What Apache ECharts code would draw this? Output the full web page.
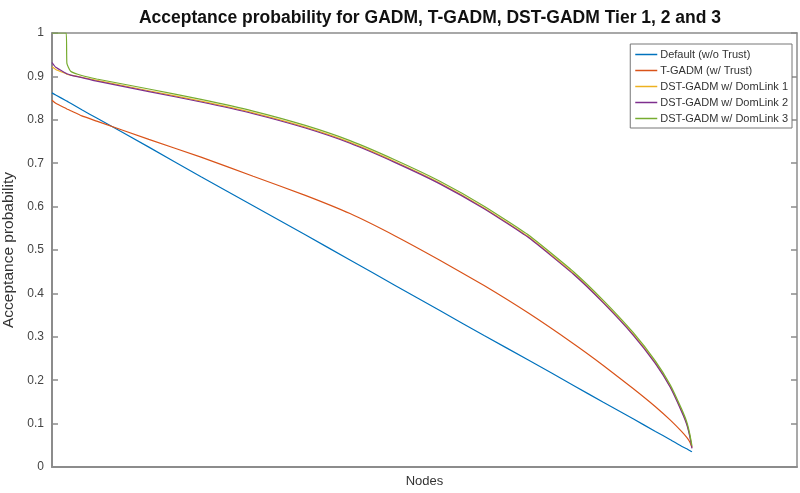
<!DOCTYPE html>
<html>
<head>
<meta charset="utf-8">
<script src="https://cdn.jsdelivr.net/npm/echarts@6/dist/echarts.min.js"></script>
<style>
  html, body { margin: 0; padding: 0; background: #fff; }
  #chart { width: 800px; height: 493px; }
</style>
</head>
<body>
<div id="chart"></div>
<script>
// node positions (x) shared by every curve
const nodes = [0, 5, 19, 20, 25, 40, 60, 130, 200, 270, 340, 400, 460, 520, 580, 640, 700, 740, 780, 810, 830, 845, 852, 856, 859];

const seriesNames = ['Default (w/o Trust)', 'T-GADM (w/ Trust)', 'DST-GADM w/ DomLink 1', 'DST-GADM w/ DomLink 2', 'DST-GADM w/ DomLink 3'];

const defaultVals = [0.862, 0.857, 0.844, 0.843, 0.838, 0.823, 0.804, 0.737, 0.669, 0.602, 0.535, 0.477, 0.419, 0.361, 0.303, 0.246, 0.188, 0.149, 0.111, 0.082, 0.063, 0.048, 0.042, 0.038, 0.035];
const tgadmVals = [0.845, 0.838, 0.826, 0.825, 0.821, 0.809, 0.797, 0.755, 0.714, 0.670, 0.626, 0.584, 0.533, 0.477, 0.418, 0.354, 0.284, 0.234, 0.181, 0.139, 0.108, 0.082, 0.068, 0.058, 0.045];
const dst1Vals = [0.922, 0.916, 0.906, 0.905, 0.903, 0.898, 0.891, 0.867, 0.843, 0.816, 0.783, 0.748, 0.704, 0.655, 0.597, 0.530, 0.446, 0.380, 0.306, 0.240, 0.185, 0.130, 0.100, 0.073, 0.045];
const dst2Vals = [0.932, 0.921, 0.907, 0.906, 0.903, 0.897, 0.889, 0.865, 0.841, 0.814, 0.781, 0.746, 0.702, 0.653, 0.595, 0.528, 0.444, 0.378, 0.304, 0.238, 0.183, 0.128, 0.098, 0.071, 0.043];
const dst3Vals = [1.0, 1.0, 1.0, 0.930, 0.912, 0.902, 0.894, 0.871, 0.847, 0.820, 0.787, 0.752, 0.708, 0.659, 0.601, 0.534, 0.450, 0.384, 0.310, 0.244, 0.189, 0.134, 0.104, 0.077, 0.049];

const colors = ['#0072BD', '#D95319', '#EDB120', '#7E2F8E', '#77AC30'];

const yTicks = [0, 0.1, 0.2, 0.3, 0.4, 0.5, 0.6, 0.7, 0.8, 0.9, 1];

function pairs(vals) {
  return nodes.map((x, i) => [x, vals[i]]);
}

const allVals = [defaultVals, tgadmVals, dst1Vals, dst2Vals, dst3Vals];

let chart = echarts.init(document.getElementById('chart'));
chart.setOption({
  animation: false,
  color: colors,
  title: {
    text: 'Acceptance probability for GADM, T-GADM, DST-GADM Tier 1, 2 and 3',
    left: 425,
    textAlign: 'center',
    top: 4,
    textStyle: { fontFamily: 'Liberation Sans', fontWeight: 'bold', fontSize: 17.5, color: '#111' }
  },
  legend: {
    orient: 'vertical',
    right: 8,
    top: 44,
    data: seriesNames,
    icon: 'rect',
    itemWidth: 22,
    itemHeight: 1.5,
    itemGap: 5,
    padding: [5, 4, 4, 5],
    borderColor: '#777',
    borderWidth: 1,
    backgroundColor: '#fff',
    textStyle: { fontFamily: 'Liberation Sans', fontSize: 11, color: '#333', padding: [0, 0, 0, -2] }
  },
  grid: { left: 52, right: 3, top: 33, bottom: 26, outerBoundsMode: 'none' },
  xAxis: [
    {
      type: 'value', min: 0, max: 1000,
      name: 'Nodes', nameLocation: 'middle', nameGap: 8,
      nameTextStyle: { fontFamily: 'Liberation Sans', fontSize: 13, color: '#333' },
      axisLine: { show: true, onZero: false, lineStyle: { color: '#8c8c8c', width: 2 } },
      axisTick: { show: false }, axisLabel: { show: false }, splitLine: { show: false }
    },
    {
      type: 'value', min: 0, max: 1000, position: 'top',
      axisLine: { show: true, onZero: false, lineStyle: { color: '#8c8c8c', width: 1.5 } },
      axisTick: { show: false }, axisLabel: { show: false }, splitLine: { show: false }
    }
  ],
  yAxis: [
    {
      type: 'value', min: 0, max: 1, interval: 0.1,
      name: 'Acceptance probability', nameLocation: 'middle', nameGap: 30,
      nameTextStyle: { fontFamily: 'Liberation Sans', fontSize: 15.5, color: '#333' },
      axisLine: { show: true, onZero: false, lineStyle: { color: '#8c8c8c', width: 2 } },
      axisTick: { show: true, inside: true, length: 6, lineStyle: { color: '#8c8c8c', width: 1.5 } },
      axisLabel: {
        fontFamily: 'Liberation Sans', fontSize: 12, color: '#444', margin: 8,
        formatter: (v) => { const t = yTicks.find((k) => Math.abs(k - v) < 1e-6); return t === undefined ? '' : String(t); }
      },
      splitLine: { show: false }
    },
    {
      type: 'value', min: 0, max: 1, interval: 0.1, position: 'right',
      axisLine: { show: true, onZero: false, lineStyle: { color: '#8c8c8c', width: 1.5 } },
      axisTick: { show: true, inside: true, length: 6, lineStyle: { color: '#8c8c8c', width: 1.5 } },
      axisLabel: { show: false }, splitLine: { show: false }
    }
  ],
  series: seriesNames.map((name, i) => ({
    name: name,
    type: 'line',
    data: pairs(allVals[i]),
    smooth: 0.15,
    symbol: 'none',
    lineStyle: { width: 1.2, color: colors[i] }
  }))
});
</script>
</body>
</html>
